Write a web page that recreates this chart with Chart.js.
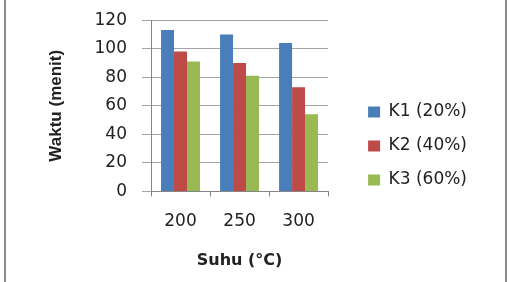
<!DOCTYPE html>
<html>
<head>
<meta charset="utf-8">
<script src="https://cdn.jsdelivr.net/npm/chart.js@4"></script>
<style>
	html, body { margin: 0; padding: 0; background: #fff; }
	#frame { position: absolute; left: 4px; top: -4px; width: 499px; height: 300px; border: 2px solid #8a8a8a; }
	#wrap { position: absolute; left: 0; top: 0; width: 515px; height: 282px; }
</style>
</head>
<body>
<div id="frame"></div>
<div id="wrap"><canvas id="chart"></canvas></div>
<script>
	// Data
	const suhu = ['200', '250', '300'];
	const k1 = [113, 110, 104];
	const k2 = [98, 90, 73];
	const k3 = [91, 81, 54];
	const seriesNames = ['K1 (20%)', 'K2 (40%)', 'K3 (60%)'];

	const tickFont = { family: 'DejaVu Sans', size: 17 };
	const gridColor = '#a4a4a4';
	const axisColor = '#868686';

	new Chart(document.getElementById('chart'), {
		type: 'bar',
		data: {
			labels: suhu,
			datasets: [
				{ label: seriesNames[0], data: k1, backgroundColor: '#4a7ebb' },
				{ label: seriesNames[1], data: k2, backgroundColor: '#be4b48' },
				{ label: seriesNames[2], data: k3, backgroundColor: '#98b954' }
			]
		},
		options: {
			responsive: true,
			maintainAspectRatio: false,
			animation: false,
			layout: {
				padding: { left: 42, top: 18, right: 38, bottom: 8 }
			},
			datasets: {
				bar: { categoryPercentage: 0.66, barPercentage: 1.0 }
			},
			scales: {
				x: {
					grid: { drawOnChartArea: false, tickLength: 5, color: axisColor },
					border: { color: axisColor },
					ticks: { font: tickFont, color: '#222', padding: 15 },
					title: {
						display: true,
						text: 'Suhu (°C)',
						font: { family: 'DejaVu Sans', size: 16, weight: 'bold' },
						color: '#222',
						padding: { top: 4, bottom: 4 }
					}
				},
				y: {
					min: 0,
					max: 120,
					ticks: {
						stepSize: 20,
						font: { family: 'DejaVu Sans', size: 17, lineHeight: 0.6 },
						color: '#222',
						padding: 15
					},
					grid: { tickLength: 9, color: gridColor },
					border: { color: axisColor },
					title: {
						display: true,
						text: 'Waktu (menit)',
						font: { family: 'Liberation Sans', size: 17, weight: 'bold' },
						color: '#222',
						padding: { top: 4, bottom: 28 }
					},
					afterFit: function(scale){
						scale.width = 109;
					}
				},
				// empty spacer between the plot and the legend
				gap: {
					position: 'right',
					display: true,
					grid: { display: false },
					border: { display: false },
					ticks: { display: false },
					afterFit: function(scale){
						scale.width = 23;
					}
				}
			},
			plugins: {
				legend: {
					position: 'right',
					maxWidth: 300,
					labels: {
						font: tickFont,
						color: '#222',
						boxWidth: 12,
						boxHeight: 11,
						padding: 17
					}
				},
				tooltip: { enabled: false }
			}
		}
	});
</script>
</body>
</html>
